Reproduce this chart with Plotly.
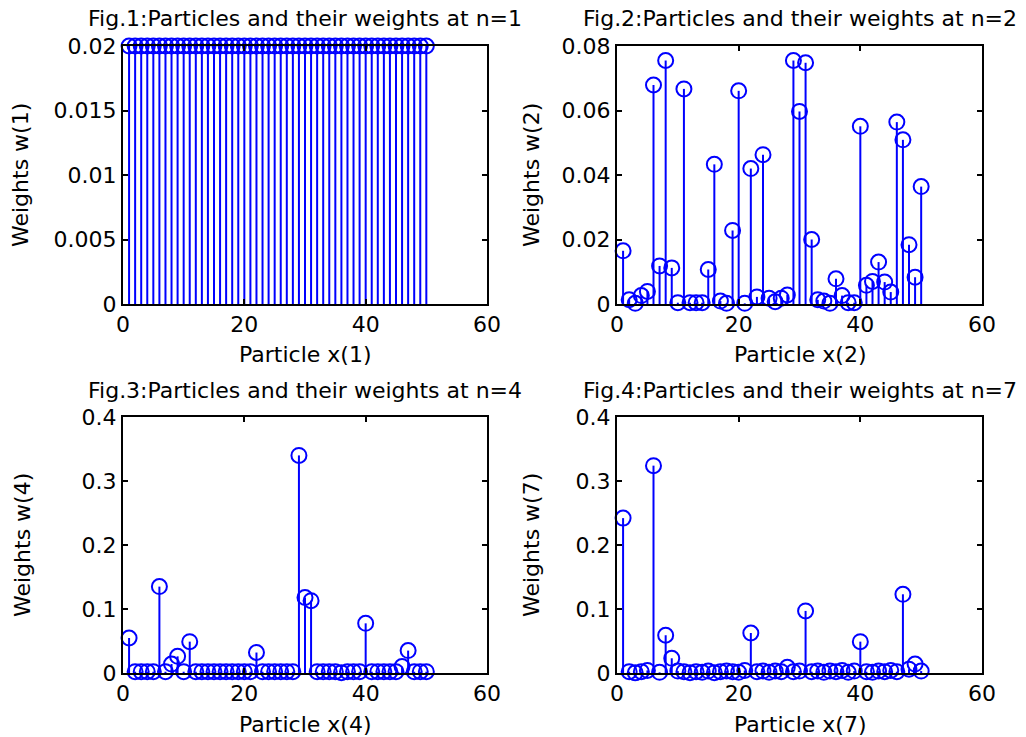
import plotly.graph_objects as go

particles = list(range(1, 51))

w1 = [0.02] * 50

w2 = [0.0165, 0.0013, 0.0002, 0.0026, 0.0039, 0.0679, 0.0118, 0.0755, 0.0112, 0.0004,
      0.0667, 0.0004, 0.0004, 0.0004, 0.0107, 0.0433, 0.0009, 0.0002, 0.0228, 0.0661,
      0.0002, 0.0420, 0.0022, 0.0463, 0.0018, 0.0007, 0.0018, 0.0028, 0.0755, 0.0597,
      0.0748, 0.0200, 0.0013, 0.0009, 0.0002, 0.0078, 0.0026, 0.0004, 0.0004, 0.0551,
      0.0058, 0.0070, 0.0130, 0.0068, 0.0037, 0.0564, 0.0509, 0.0184, 0.0083, 0.0364]

w4 = [0.0547, 0.002, 0.002, 0.002, 0.002, 0.135, 0.002, 0.014, 0.026, 0.002,
      0.049, 0.002, 0.002, 0.002, 0.002, 0.002, 0.002, 0.002, 0.002, 0.002,
      0.002, 0.032, 0.002, 0.002, 0.002, 0.002, 0.002, 0.002, 0.340, 0.118,
      0.113, 0.002, 0.002, 0.002, 0.002, 0.0005, 0.002, 0.002, 0.002, 0.0776,
      0.002, 0.002, 0.002, 0.002, 0.002, 0.010, 0.035, 0.002, 0.002, 0.002]

w7 = [0.242, 0.002, 0.0002, 0.002, 0.004, 0.324, 0.001, 0.059, 0.023, 0.003,
      0.002, 0.0005, 0.002, 0.001, 0.003, 0.0005, 0.002, 0.003, 0.002, 0.001,
      0.004, 0.0625, 0.002, 0.003, 0.001, 0.003, 0.002, 0.009, 0.002, 0.003,
      0.097, 0.002, 0.003, 0.001, 0.003, 0.002, 0.004, 0.001, 0.003, 0.049,
      0.002, 0.001, 0.003, 0.002, 0.004, 0.002, 0.123, 0.006, 0.014, 0.003]

series = [w1, w2, w4, w7]
steps = [1, 2, 4, 7]
y_ranges = [[0, 0.02], [0, 0.08], [0, 0.4], [0, 0.4]]
y_ticks = [[0, 0.005, 0.01, 0.015, 0.02], [0, 0.02, 0.04, 0.06, 0.08],
           [0, 0.1, 0.2, 0.3, 0.4], [0, 0.1, 0.2, 0.3, 0.4]]
y_ticktext = [["0", "0.005", "0.01", "0.015", "0.02"], ["0", "0.02", "0.04", "0.06", "0.08"],
              ["0", "0.1", "0.2", "0.3", "0.4"], ["0", "0.1", "0.2", "0.3", "0.4"]]
x_ticks = [0, 20, 40, 60]

W, H = 1026, 737
FONT = "DejaVu Sans, Liberation Sans, Arial, sans-serif"
FS = 22
BLUE = "#0000ff"

# axes pixel boxes: (left, right, top, bottom)
boxes = [(123, 487, 46, 304), (617, 982, 46, 304), (123, 487, 417, 673), (617, 982, 417, 673)]
ylabel_x = [20, 531, 22, 531]

fig = go.Figure()
layout = dict(
    width=W, height=H, margin=dict(l=0, r=0, t=0, b=0, autoexpand=False),
    paper_bgcolor="white", plot_bgcolor="white", showlegend=False,
    font=dict(family=FONT, size=FS, color="black"),
)
annotations = []
for i, (vals, n) in enumerate(zip(series, steps)):
    k = "" if i == 0 else str(i + 1)
    xa, ya = "x" + k, "y" + k
    sx, sy = [], []
    for p, v in zip(particles, vals):
        sx += [p, p, None]
        sy += [0, v, None]
    fig.add_trace(go.Scatter(x=sx, y=sy, mode="lines", xaxis=xa, yaxis=ya,
                             line=dict(color=BLUE, width=2), hoverinfo="skip",
                             cliponaxis=False))
    fig.add_trace(go.Scatter(x=particles, y=vals, mode="markers", xaxis=xa, yaxis=ya,
                             marker=dict(symbol="circle-open", size=15, color=BLUE,
                                         line=dict(width=2, color=BLUE)),
                             cliponaxis=False))
    l, r, t, b = boxes[i]
    common = dict(showline=True, linecolor="black", linewidth=2, mirror="allticks",
                  ticks="inside", ticklen=5, tickwidth=1.5, tickcolor="black",
                  showgrid=False, zeroline=False, automargin=False,
                  tickfont=dict(family=FONT, size=FS, color="black"))
    layout["xaxis" + k] = dict(domain=[l / W, r / W], range=[0, 60], tickvals=x_ticks,
                               anchor=ya, **common)
    layout["yaxis" + k] = dict(domain=[1 - b / H, 1 - t / H], range=y_ranges[i],
                               tickvals=y_ticks[i], ticktext=y_ticktext[i], anchor=xa,
                               **common)
    annotations.append(dict(text="Fig.%d:Particles and their weights at n=%d" % (i + 1, n),
                            x=(l + r) / 2 / W, y=1 - (t - 27) / H, xref="paper", yref="paper",
                            xanchor="center", yanchor="middle", showarrow=False,
                            font=dict(family=FONT, size=FS, color="black")))
    annotations.append(dict(text="Particle x(%d)" % n,
                            x=(l + r) / 2 / W, y=1 - (b + 51) / H, xref="paper", yref="paper",
                            xanchor="center", yanchor="middle", showarrow=False,
                            font=dict(family=FONT, size=FS, color="black")))
    annotations.append(dict(text="Weights w(%d)" % n, textangle=-90,
                            x=ylabel_x[i] / W, y=1 - (t + b) / 2 / H, xref="paper", yref="paper",
                            xanchor="center", yanchor="middle", showarrow=False,
                            font=dict(family=FONT, size=FS, color="black")))
layout["annotations"] = annotations
fig.update_layout(**layout)
fig.write_html("out.html")
